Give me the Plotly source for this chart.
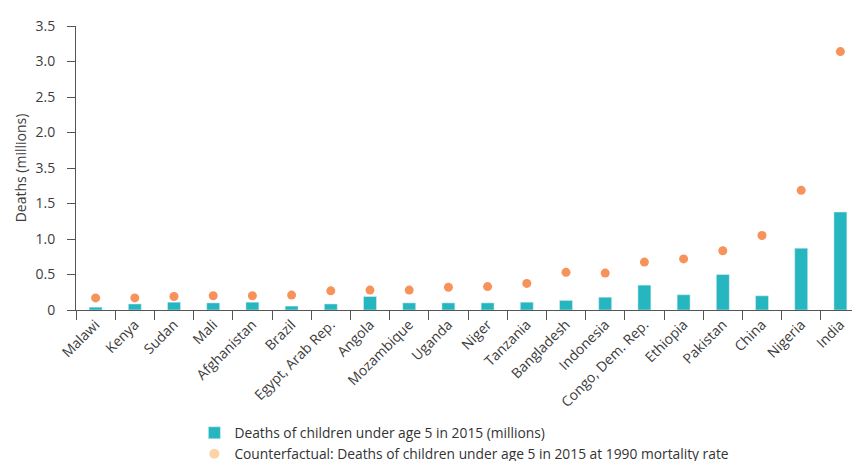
import plotly.graph_objects as go

countries = ["Malawi", "Kenya", "Sudan", "Mali", "Afghanistan", "Brazil", "Egypt, Arab Rep.",
             "Angola", "Mozambique", "Uganda", "Niger", "Tanzania", "Bangladesh", "Indonesia",
             "Congo, Dem. Rep.", "Ethiopia", "Pakistan", "China", "Nigeria", "India"]
deaths_2015 = [0.04, 0.085, 0.11, 0.10, 0.11, 0.055, 0.085, 0.19, 0.10, 0.10, 0.10, 0.11,
               0.135, 0.18, 0.35, 0.215, 0.50, 0.20, 0.87, 1.38]
counterfactual = [0.17, 0.17, 0.19, 0.20, 0.20, 0.21, 0.27, 0.28, 0.28, 0.32, 0.33, 0.375,
                  0.53, 0.52, 0.675, 0.72, 0.835, 1.05, 1.685, 3.64]
y_tickvals = [0, 0.5, 1.0, 1.5, 2.0, 2.5, 3.0, 3.5, 4.0]
y_ticktext = ["0", "0.5", "1.0", "1.5", "3.5", "2.0", "2.5", "3.0", "3.5"]

teal = "#26b6bf"
orange = "#f7935a"
peach = "#fdd3a8"

fig = go.Figure()
fig.add_trace(go.Bar(x=countries, y=deaths_2015, marker_color=teal, width=0.33,
                     name="Deaths of children under age 5 in 2015 (millions)"))
fig.add_trace(go.Scatter(x=countries, y=counterfactual, mode="markers",
                         marker=dict(color=orange, size=9), showlegend=False))
fig.add_trace(go.Scatter(x=[None], y=[None], mode="markers",
                         marker=dict(color=peach, size=10),
                         name="Counterfactual: Deaths of children under age 5 in 2015 at 1990 mortality rate"))

# The page body has an 8px margin, so the figure is sized 852x453 to fill the 860x461 window.
fig.update_layout(
    width=852, height=453,
    margin=dict(l=68, r=0, t=18, b=151, autoexpand=False),
    plot_bgcolor="white", paper_bgcolor="white",
    font=dict(family="Open Sans", size=12, color="#3c3c3c"),
    legend=dict(orientation="v", x=0.151, xanchor="left", y=-0.378, yanchor="top",
                font=dict(size=13.8, color="#333"), itemwidth=30, tracegroupgap=0,
                bgcolor="rgba(0,0,0,0)"),
    xaxis=dict(range=[-0.5, len(countries) - 0.5], autorange=False,
               showline=True, linecolor="#555", linewidth=1, ticks="outside",
               tickson="boundaries", ticklen=9, tickcolor="#555", tickangle=-45,
               showgrid=False, automargin=False, tickfont=dict(size=14, color="#3c3c3c")),
    yaxis=dict(range=[0, 4.0], tickvals=y_tickvals, ticktext=y_ticktext,
               showline=True, linecolor="#555", linewidth=1, ticks="outside",
               ticklen=8, tickcolor="#555", showgrid=False, zeroline=False,
               ticklabelstandoff=9,
               automargin=False, tickfont=dict(size=14, color="#3c3c3c"),
               title=dict(text="Deaths (millions)", font=dict(size=14, color="#3c3c3c"), standoff=5)),
)

fig.write_html("out.html")
